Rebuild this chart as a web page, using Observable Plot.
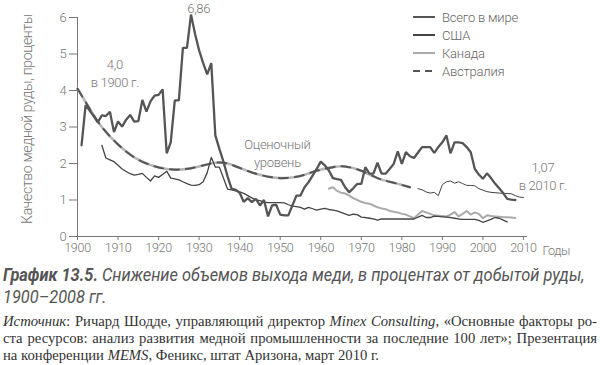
<!DOCTYPE html>
<html><head><meta charset="utf-8">
<script src="https://cdn.jsdelivr.net/npm/d3@7"></script>
<script src="https://cdn.jsdelivr.net/npm/@observablehq/plot@0.6"></script>
<style>
body{margin:0;background:#fff;width:600px;height:365px;overflow:hidden;position:relative;}
#chart{position:absolute;left:0;top:0;}
#legend{position:absolute;left:413px;top:8px;font-family:Roboto,sans-serif;font-weight:300;font-size:13px;letter-spacing:-0.2px;color:#666;}
#legend .row{height:18px;display:flex;align-items:center;}
#legend svg{margin-right:7px;}
#title{position:absolute;left:3px;top:264px;white-space:nowrap;font-family:Roboto,sans-serif;font-style:italic;font-weight:400;font-size:18px;line-height:22px;color:#555;transform:scaleX(0.91);transform-origin:0 0;}
#title b{font-weight:700;}
#caption{position:absolute;left:3px;top:313px;width:594px;font-family:"Liberation Serif",serif;font-size:14.7px;line-height:17px;color:#333;}
#caption div{white-space:nowrap;}
#caption .j{text-align:justify;text-align-last:justify;}
</style></head>
<body>
<div id="chart"></div>
<div id="legend"></div>
<div id="title"><b>График 13.5.</b> Снижение объемов выхода меди, в процентах от добытой руды,<br>1900–2008 гг.</div>
<div id="caption">
<div class="j"><i>Источник</i>: Ричард Шодде, управляющий директор <i>Minex Consulting</i>, «Основные факторы ро-</div>
<div class="j">ста ресурсов: анализ развития медной промышленности за последние 100 лет»; Презентация</div>
<div>на конференции <i>MEMS</i>, Феникс, штат Аризона, март 2010 г.</div>
</div>
<script>
// ---- data ----
const xTicks = [1900,1910,1920,1930,1940,1950,1960,1970,1980,1990,2000,2010];
const yTicks = [0,1,2,3,4,5,6];
const yLabel = "Качество медной руды, проценты";
const xUnit = "Годы";

// thick jagged series (1901–2008)
const australiaStart = 1901;
const australiaValues = [2.5,3.6,3.45,3.3,3.13,3.32,3.3,3.42,2.86,3.15,
3.01,3.2,3.33,3.15,3.16,3.74,3.42,3.7,3.86,3.88,
4.03,2.28,2.58,3.73,3.73,5.17,5.17,6.08,5.55,5.1,
4.75,4.44,4.75,2.77,2.4,2.05,1.65,1.31,1.28,1.2,
0.95,1.05,0.94,1.03,0.85,1.0,0.55,0.85,0.87,0.6,
0.58,0.58,0.85,1.12,1.12,1.35,1.49,1.67,1.85,2.05,
1.95,1.81,1.6,1.57,1.55,1.35,1.21,1.32,1.44,1.44,
1.9,1.72,1.72,2.02,1.72,1.72,1.85,1.99,2.33,1.99,
2.31,2.2,2.15,2.3,2.45,2.45,2.45,2.29,2.45,2.58,
2.77,2.28,2.58,2.58,2.56,2.45,2.31,1.85,1.7,1.58,
1.73,1.6,1.45,1.32,1.19,1.03,1.01,1.0];

// USA (1906–2006)
const usaStart = 1906;
const usaValues = [2.5,2.15,2.1,2.05,1.95,1.85,1.78,1.72,1.68,1.7,
1.73,1.62,1.52,1.66,1.62,1.7,1.79,1.6,1.58,1.55,
1.5,1.45,1.41,1.4,1.42,1.5,1.75,2.17,1.9,1.9,
1.6,1.3,1.28,1.25,1.22,1.18,1.12,1.06,1.0,0.98,
0.94,0.93,0.93,0.93,0.93,0.92,0.87,0.83,0.82,0.8,
0.75,0.8,0.76,0.72,0.75,0.77,0.74,0.72,0.7,0.66,
0.62,0.58,0.61,0.6,0.53,0.52,0.5,0.48,0.45,0.48,
0.48,0.48,0.48,0.48,0.48,0.48,0.48,0.48,0.53,0.58,
0.52,0.52,0.56,0.55,0.54,0.53,0.52,0.5,0.48,0.47,
0.47,0.47,0.47,0.44,0.39,0.43,0.47,0.52,0.5,0.45,
0.4];

// Canada (1962–2008)
const canadaStart = 1962;
const canadaValues = [1.31,1.35,1.25,1.2,1.18,1.12,1.05,1.0,0.95,0.92,
0.9,0.85,0.8,0.77,0.75,0.7,0.68,0.66,0.62,0.6,
0.55,0.5,0.6,0.7,0.66,0.62,0.58,0.57,0.56,0.55,
0.6,0.67,0.55,0.62,0.7,0.6,0.66,0.62,0.5,0.58,
0.56,0.55,0.54,0.53,0.53,0.52,0.51];

// world, estimated level (1900–1982)
const estYears = [1900,1903,1906,1910,1914,1918,1922,1926,1930,1934,1937,1940,1944,1948,1951,1955,1959,1963,1966,1970,1974,1978,1982];
const estValues = [4.05,3.5,3.0,2.52,2.17,1.96,1.85,1.84,1.92,2.02,2.0,1.88,1.72,1.62,1.6,1.66,1.8,1.9,1.92,1.8,1.6,1.47,1.35];

// world, actual (1984–2010)
const worldStart = 1984;
const worldValues = [1.31,1.28,1.22,1.19,1.21,1.12,1.42,1.5,1.52,1.46,
1.5,1.45,1.4,1.4,1.39,1.31,1.27,1.23,1.21,1.2,
1.19,1.18,1.18,1.17,1.12,1.08,1.07];

// annotations
const annTexts = ["6,86","4,0\nв 1900 г.","Оценочный\nуровень","1,07\nв 2010 г."];
const annYears = [1929.9,1909.2,1949.3,2014.8];
const annValues = [6.27,4.5,2.31,1.67];

// legend
const legendNames = ["Всего в мире","США","Канада","Австралия"];
const legendColors = ["#555","#444","#aaa","#555"];
const legendDash = [null,null,null,"7,5"];

// ---- build ----
const toRows = (start, vals) => vals.map((v,i)=>({year:start+i, value:v}));
const australia = toRows(australiaStart, australiaValues);
const usa = toRows(usaStart, usaValues);
const canada = toRows(canadaStart, canadaValues);
const world = toRows(worldStart, worldValues);
const est = estYears.map((y,i)=>({year:y, value:estValues[i]}));
const ann = annTexts.map((t,i)=>({text:t, year:annYears[i], value:annValues[i]}));

const chart = Plot.plot({
  width:600, height:258,
  marginLeft:77, marginRight:73, marginTop:17, marginBottom:22,
  style:{fontFamily:"Roboto,sans-serif", fontWeight:300, fontSize:"12.5px", letterSpacing:"-0.3px", color:"#777", background:"transparent"},
  x:{domain:[1900,2011]},
  y:{domain:[0,6]},
  marks:[
    Plot.ruleY([0],{stroke:"#777", strokeWidth:1}),
    Plot.ruleX([1900],{stroke:"#777", strokeWidth:1}),
    Plot.axisX({ticks:xTicks, tickSize:4, tickPadding:3, tickFormat:d=>String(d), label:null, stroke:"#777", fill:"#777"}),
    Plot.axisY({ticks:yTicks, tickSize:8, tickPadding:3, tickFormat:d=>String(d), label:null, stroke:"#777", fill:"#777", fontSize:13}),
    Plot.text([yLabel],{frameAnchor:"left", text:d=>d, rotate:-90, textAnchor:"middle", dx:-50, dy:-8, fill:"#777", fontSize:14}),
    Plot.text([xUnit],{x:()=>2011, y:()=>0, text:d=>d, textAnchor:"start", dx:15, dy:14, fill:"#777"}),
    Plot.line(est,{x:"year", y:"value", curve:"natural", stroke:"#b8b8b8", strokeWidth:2.6}),
    Plot.line(est,{x:"year", y:"value", curve:"natural", stroke:"#555", strokeWidth:2, strokeDasharray:"9,7"}),
    Plot.line(canada,{x:"year", y:"value", stroke:"#aaa", strokeWidth:2}),
    Plot.line(usa,{x:"year", y:"value", stroke:"#444", strokeWidth:1.3}),
    Plot.line(world,{x:"year", y:"value", stroke:"#444", strokeWidth:1}),
    Plot.line(australia,{x:"year", y:"value", stroke:"#555", strokeWidth:2.3, strokeLinejoin:"miter"}),
    Plot.text(ann,{x:"year", y:"value", text:"text", fill:"#777", fontSize:13, lineHeight:1.35, lineAnchor:"middle"})
  ]
});
document.getElementById("chart").appendChild(chart);

const lg = document.getElementById("legend");
legendNames.forEach((n,i)=>{
  const row = document.createElement("div"); row.className="row";
  row.innerHTML = `<svg width="22" height="4"><line x1="0" y1="2" x2="22" y2="2" stroke="${legendColors[i]}" stroke-width="2" ${legendDash[i]?`stroke-dasharray="${legendDash[i]}"`:""}/></svg><span>${n}</span>`;
  lg.appendChild(row);
});
</script>
</body></html>
